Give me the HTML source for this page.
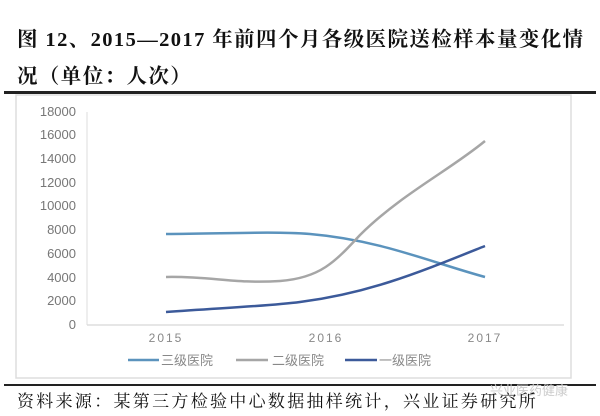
<!DOCTYPE html>
<html><head><meta charset="utf-8"><style>
body{margin:0;background:#fff;width:600px;height:416px;overflow:hidden;position:relative;font-family:"Liberation Serif","Noto Serif CJK SC",serif}
.t{position:absolute;left:17px;font-size:20.5px;font-weight:bold;color:#111;white-space:nowrap;letter-spacing:1.4px}
.s{position:absolute;left:17px;top:387px;font-size:17px;color:#111;white-space:nowrap;letter-spacing:2.3px}
</style></head><body>
<div class="t" style="top:22px">图 12、2015—2017 年前四个月各级医院送检样本量变化情</div>
<div class="t" style="top:59px">况（单位：人次）</div>
<div style="position:absolute;left:4px;top:91px;width:592px;height:3px;background:#222"></div>
<div style="position:absolute;left:4px;top:384px;width:592px;height:2px;background:#222"></div>
<svg style="position:absolute;left:0;top:0" width="600" height="416" font-family="Liberation Sans,Noto Sans CJK SC,sans-serif">
<rect x="16" y="95" width="555" height="283" fill="none" stroke="#ddd" stroke-width="1.5"/>
<g fill="#777" font-size="13" text-anchor="end">
<text x="76" y="329">0</text><text x="76" y="305">2000</text><text x="76" y="282">4000</text><text x="76" y="258">6000</text><text x="76" y="234">8000</text><text x="76" y="210">10000</text><text x="76" y="187">12000</text><text x="76" y="163">14000</text><text x="76" y="139">16000</text><text x="76" y="116">18000</text>
</g>
<line x1="87" y1="112" x2="87" y2="325" stroke="#ddd"/>
<line x1="87" y1="325" x2="564" y2="325" stroke="#ddd" stroke-width="1.5"/>
<g fill="#888" font-size="12" text-anchor="middle" letter-spacing="2">
<text x="166" y="342">2015</text><text x="326" y="342">2016</text><text x="485" y="342">2017</text>
</g>
<path d="M166,234 C220,234 270,231 310,234 C380,240 430,262 485,277" fill="none" stroke="#5b93bd" stroke-width="2.5"/>
<path d="M166,277 C210,276 235,284 280,281 C320,278 335,262 360,235 C400,195 450,170 485,141" fill="none" stroke="#a6a6a6" stroke-width="2.5"/>
<path d="M166,312 C220,308 270,306 300,302 C370,293 420,272 485,246" fill="none" stroke="#3c5a9a" stroke-width="2.5"/>
<g font-size="13" fill="#888">
<line x1="128" y1="360" x2="159" y2="360" stroke="#5b93bd" stroke-width="2.5"/><text x="161" y="365">三级医院</text>
<line x1="236" y1="360" x2="268" y2="360" stroke="#a6a6a6" stroke-width="2.5"/><text x="272" y="365">二级医院</text>
<line x1="345" y1="360" x2="377" y2="360" stroke="#3c5a9a" stroke-width="2.5"/><text x="379" y="365">一级医院</text>
</g>
<text x="490" y="395" font-size="13" fill="#ccc">兴业医药健康</text>
</svg>
<div class="s">资料来源：某第三方检验中心数据抽样统计，兴业证券研究所</div>
</body></html>
